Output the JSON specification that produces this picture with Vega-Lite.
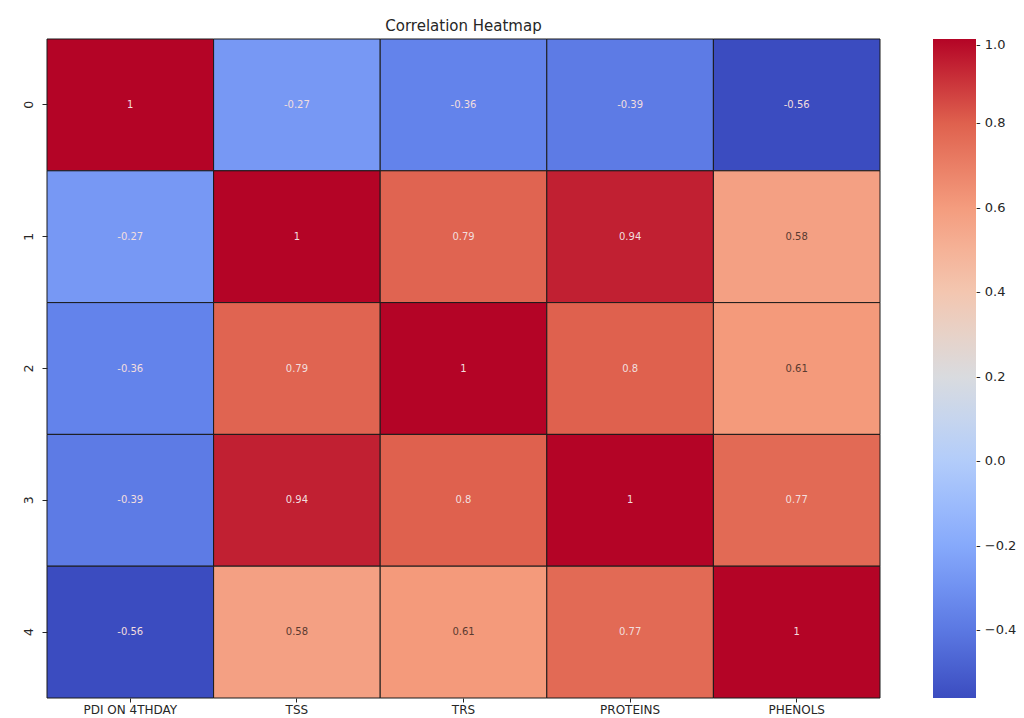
{
  "$schema": "https://vega.github.io/schema/vega-lite/v6.json",
  "width": 833,
  "height": 659,
  "autosize": {"type": "none"},
  "padding": {"left": 47, "top": 39, "right": 144, "bottom": 20},
  "background": "white",
  "view": {"stroke": null},
  "config": {"font": "DejaVu Sans"},
  "title": {"text": "Correlation Heatmap", "fontSize": 15, "fontWeight": "normal", "color": "#262626", "font": "DejaVu Sans", "offset": 5},
  "data": {"values": [
    {"row": "0", "col": "PDI ON 4THDAY", "r": 1},
    {"row": "0", "col": "TSS", "r": -0.27},
    {"row": "0", "col": "TRS", "r": -0.36},
    {"row": "0", "col": "PROTEINS", "r": -0.39},
    {"row": "0", "col": "PHENOLS", "r": -0.56},
    {"row": "1", "col": "PDI ON 4THDAY", "r": -0.27},
    {"row": "1", "col": "TSS", "r": 1},
    {"row": "1", "col": "TRS", "r": 0.79},
    {"row": "1", "col": "PROTEINS", "r": 0.94},
    {"row": "1", "col": "PHENOLS", "r": 0.58},
    {"row": "2", "col": "PDI ON 4THDAY", "r": -0.36},
    {"row": "2", "col": "TSS", "r": 0.79},
    {"row": "2", "col": "TRS", "r": 1},
    {"row": "2", "col": "PROTEINS", "r": 0.8},
    {"row": "2", "col": "PHENOLS", "r": 0.61},
    {"row": "3", "col": "PDI ON 4THDAY", "r": -0.39},
    {"row": "3", "col": "TSS", "r": 0.94},
    {"row": "3", "col": "TRS", "r": 0.8},
    {"row": "3", "col": "PROTEINS", "r": 1},
    {"row": "3", "col": "PHENOLS", "r": 0.77},
    {"row": "4", "col": "PDI ON 4THDAY", "r": -0.56},
    {"row": "4", "col": "TSS", "r": 0.58},
    {"row": "4", "col": "TRS", "r": 0.61},
    {"row": "4", "col": "PROTEINS", "r": 0.77},
    {"row": "4", "col": "PHENOLS", "r": 1}
  ]},
  "encoding": {
    "x": {"field": "col", "type": "nominal", "sort": ["PDI ON 4THDAY", "TSS", "TRS", "PROTEINS", "PHENOLS"],
      "scale": {"paddingInner": 0, "paddingOuter": 0},
      "axis": {"title": null, "labelAngle": 0, "labelFontSize": 12, "labelColor": "#262626", "tickColor": "#262626", "tickSize": 4, "domain": false, "labelPadding": 2, "labelFont": "DejaVu Sans"}},
    "y": {"field": "row", "type": "nominal", "sort": ["0", "1", "2", "3", "4"],
      "scale": {"paddingInner": 0, "paddingOuter": 0},
      "axis": {"title": null, "labelAngle": -90, "labelAlign": "center", "labelBaseline": "bottom", "labelFontSize": 12.5, "labelColor": "#262626", "tickColor": "#262626", "tickSize": 5, "domain": false, "labelPadding": 7, "labelFont": "DejaVu Sans"}}
  },
  "layer": [
    {
      "mark": {"type": "rect", "stroke": "#1a1a1a", "strokeWidth": 1},
      "encoding": {
        "color": {"field": "r", "type": "quantitative",
          "scale": {"domain": [-0.56, -0.365, -0.17, 0.025, 0.22, 0.415, 0.61, 0.805, 1.0],
            "range": ["#3b4cc0", "#6282ea", "#8db0fe", "#b8d0f9", "#dddcdc", "#f5c4ac", "#f49a7b", "#de604d", "#b40426"],
            "interpolate": "rgb"},
          "legend": {"title": null, "orient": "none", "legendX": 886, "legendY": 0, "direction": "vertical",
            "gradientLength": 659, "gradientThickness": 43, "gradientStrokeWidth": 0,
            "values": [-0.4, -0.2, 0, 0.2, 0.4, 0.6, 0.8, 1.0],
            "labelExpr": "'- ' + replace(format(datum.value, '.1f'), '-', '\u2212')",
            "labelFontSize": 13, "labelColor": "#262626", "labelOffset": 0, "labelFont": "DejaVu Sans", "labelOverlap": false, "padding": 0}}
      }
    },
    {
      "transform": [{"calculate": "toString(datum.r)", "as": "label"}],
      "mark": {"type": "text", "fontSize": 10, "font": "DejaVu Sans"},
      "encoding": {
        "text": {"field": "label", "type": "nominal"},
        "color": {"condition": {"test": "datum.r > 0.4 && datum.r < 0.7", "value": "#5a3a30"}, "value": "#f2dede"}
      }
    }
  ]
}
